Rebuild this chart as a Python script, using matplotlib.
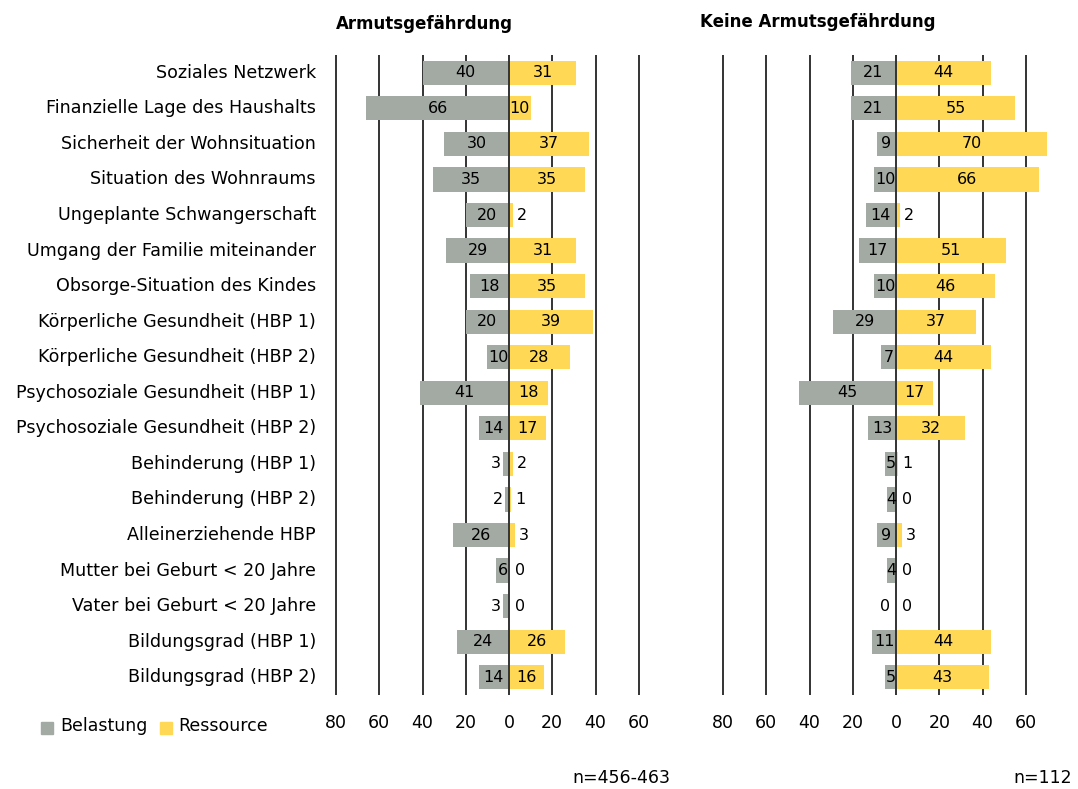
import matplotlib.pyplot as plt
import numpy as np
from matplotlib.patches import Rectangle

## Data
categories = [
    "Soziales Netzwerk",
    "Finanzielle Lage des Haushalts",
    "Sicherheit der Wohnsituation",
    "Situation des Wohnraums",
    "Ungeplante Schwangerschaft",
    "Umgang der Familie miteinander",
    "Obsorge-Situation des Kindes",
    "Körperliche Gesundheit (HBP 1)",
    "Körperliche Gesundheit (HBP 2)",
    "Psychosoziale Gesundheit (HBP 1)",
    "Psychosoziale Gesundheit (HBP 2)",
    "Behinderung (HBP 1)",
    "Behinderung (HBP 2)",
    "Alleinerziehende HBP",
    "Mutter bei Geburt < 20 Jahre",
    "Vater bei Geburt < 20 Jahre",
    "Bildungsgrad (HBP 1)",
    "Bildungsgrad (HBP 2)",
]

arm_belastung = [40, 66, 30, 35, 20, 29, 18, 20, 10, 41, 14, 3, 2, 26, 6, 3, 24, 14]
arm_ressource = [31, 10, 37, 35, 2, 31, 35, 39, 28, 18, 17, 2, 1, 3, 0, 0, 26, 16]

keine_belastung = [21, 21, 9, 10, 14, 17, 10, 29, 7, 45, 13, 5, 4, 9, 4, 0, 11, 5]
keine_ressource = [44, 55, 70, 66, 2, 51, 46, 37, 44, 17, 32, 1, 0, 3, 0, 0, 44, 43]

ticks = [-80, -60, -40, -20, 0, 20, 40, 60]
tick_labels = ["80", "60", "40", "20", "0", "20", "40", "60"]

titles = ["Armutsgefährdung", "Keine Armutsgefährdung"]
n_labels = ["n=456-463", "n=112"]

GRAY = "#a3aaa4"
YELLOW = "#ffd955"
LINE = "#333333"

plt.rcParams['font.family'] = ['DejaVu Sans']

fig = plt.figure(figsize=(10.78, 7.89), dpi=100)
W, H = 1078, 789

## axes positions in pixels: x range -82..72 -> 2.1625 px per unit
unit = 2.1625
panels = [
    (509, arm_belastung, arm_ressource),
    (896, keine_belastung, keine_ressource),
]
xmin, xmax = -82, 72
top_px, bot_px = 55, 695

axes = []
y = np.arange(len(categories))
for zero_px, bel, res in panels:
    left = zero_px + xmin * unit
    width = (xmax - xmin) * unit
    ax = fig.add_axes([left / W, 1 - bot_px / H, width / W, (bot_px - top_px) / H])
    ax.set_xlim(xmin, xmax)
    ax.set_ylim(len(categories) - 0.5, -0.5)
    for s in ax.spines.values():
        s.set_visible(False)
    ax.set_yticks([])
    ax.set_xticks(ticks)
    ax.set_xticklabels(tick_labels, fontsize=12.5)
    ax.tick_params(axis='x', length=0, pad=14)
    for t in ticks:
        if t != 0:
            ax.axvline(t, color=LINE, lw=1.4, zorder=0)
    ax.axvline(0, color=LINE, lw=1.4, zorder=3)

    bel = np.array(bel)
    res = np.array(res)
    ax.barh(y, -bel, height=0.68, color=GRAY, zorder=2)
    ax.barh(y, res, height=0.68, color=YELLOW, zorder=2)

    for i in range(len(categories)):
        b = bel[i]
        if b >= 4:
            ax.text(-b / 2, i, str(b), ha='center', va='center', fontsize=11.5, zorder=4)
        else:
            ax.text(-(max(b, 1.5) + 1), i, str(b), ha='right', va='center', fontsize=11.5, zorder=4)
        r = res[i]
        if r >= 5:
            ax.text(r / 2, i, str(r), ha='center', va='center', fontsize=11.5, zorder=4)
        else:
            ax.text(max(r, 1.5) + 1.5, i, str(r), ha='left', va='center', fontsize=11.5, zorder=4)
    axes.append(ax)

## category labels
for i, c in enumerate(categories):
    axes[0].text(-82 - (336 - 316) / unit + 2, i, c, ha='right', va='center', fontsize=12.6)

## titles
fig.text(424 / W, 1 - 24 / H, titles[0], ha='center', va='center', fontsize=12, fontweight='bold')
fig.text(818 / W, 1 - 22 / H, titles[1], ha='center', va='center', fontsize=12, fontweight='bold')

## n labels
fig.text(670 / W, 1 - 778 / H, n_labels[0], ha='right', va='center', fontsize=12.5)
fig.text(1072 / W, 1 - 778 / H, n_labels[1], ha='right', va='center', fontsize=12.5)

## legend
fig.patches.append(Rectangle((41 / W, 1 - 734 / H), 12 / W, 12 / H, transform=fig.transFigure, color=GRAY))
fig.text(60 / W, 1 - 726 / H, "Belastung", ha='left', va='center', fontsize=12.5)
fig.patches.append(Rectangle((160 / W, 1 - 734 / H), 12 / W, 12 / H, transform=fig.transFigure, color=YELLOW))
fig.text(178 / W, 1 - 726 / H, "Ressource", ha='left', va='center', fontsize=12.5)

fig.savefig("out.png", dpi=100)
